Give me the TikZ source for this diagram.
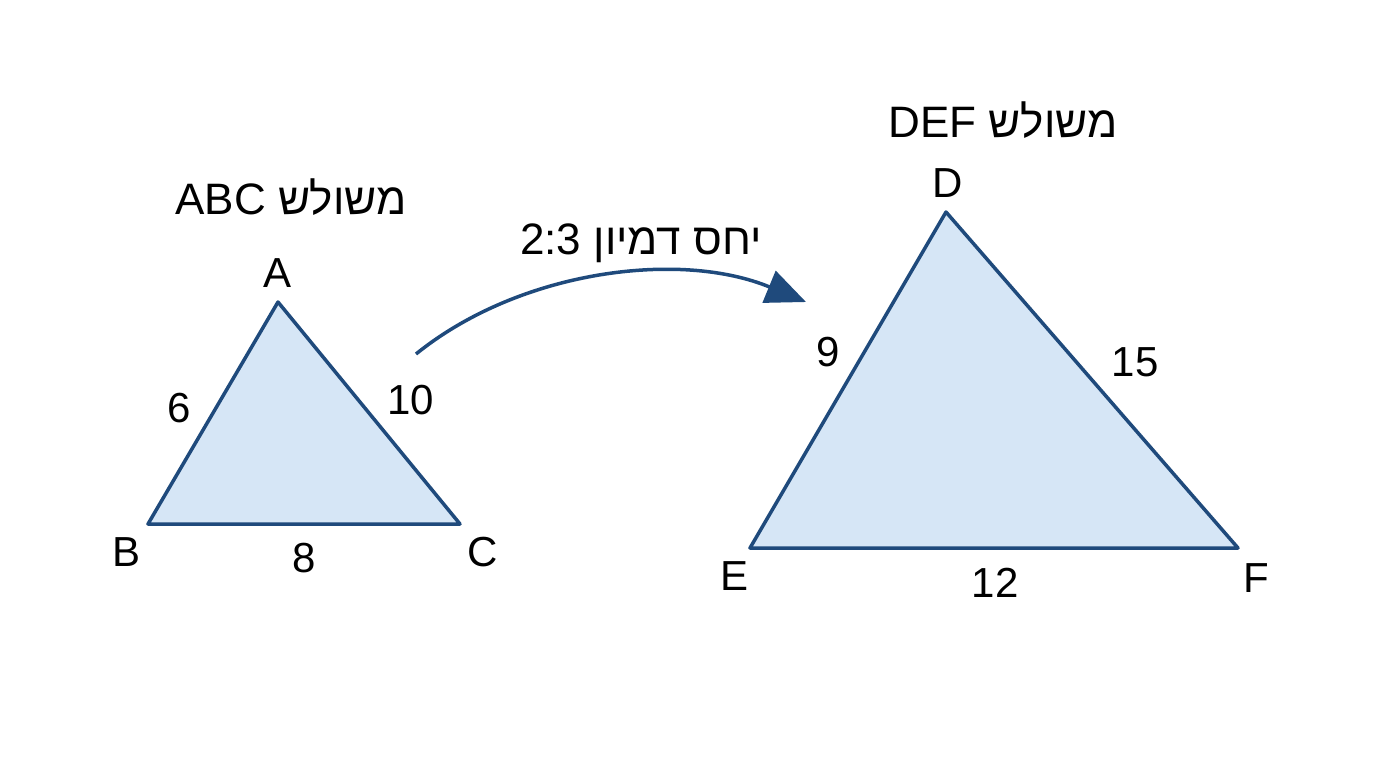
\documentclass[tikz,border=0pt]{standalone}
\usepackage{fontspec}
\setmainfont{Liberation Sans}
\newfontfamily\hebfont[Script=Hebrew]{Liberation Sans}
\TeXXeTstate=1
\usepackage{xcolor}
\usetikzlibrary{arrows.meta}
\definecolor{triline}{HTML}{1F4A7C}
\definecolor{trifill}{HTML}{D6E6F6}

\begin{document}
\begin{tikzpicture}[x=1pt,y=-1pt,
    tri/.style={draw=triline,fill=trifill,line width=3.5pt,line join=round},
    lbl/.style={font=\fontsize{42}{50}\selectfont},
    head/.style={font=\hebfont\fontsize{44}{50}\selectfont}]
                \useasboundingbox[fill=white] (0,0) rectangle (1376,768);
                % triangle ABC
                \coordinate (A) at (278,302);
                \coordinate (B) at (148,524);
                \coordinate (C) at (460,524);
                \draw[tri] (A) -- (B) -- (C) -- cycle;
                \node[head] (titleABC) at (291,197) {\beginR משולש \beginL ABC\endL\endR};
                \node[lbl] (labA) at (278,273) {A};
                \node[lbl] (labB) at (127,552) {B};
                \node[lbl] (labC) at (483,552) {C};
                \node[lbl] (sAB) at (179,408) {6};
                \node[lbl] (sAC) at (411,400) {10};
                \node[lbl] (sBC) at (304,558) {8};
                % triangle DEF
                \coordinate (D) at (946,212);
                \coordinate (E) at (750,548);
                \coordinate (F) at (1238,548);
                \draw[tri] (D) -- (E) -- (F) -- cycle;
                \node[head] (titleDEF) at (1003,120) {\beginR משולש \beginL DEF\endL\endR};
                \node[lbl] (labD) at (948,183) {D};
                \node[lbl] (labE) at (734,576) {E};
                \node[lbl] (labF) at (1256,578) {F};
                \node[lbl] (sDE) at (828,352) {9};
                \node[lbl] (sDF) at (1135,362) {15};
                \node[lbl] (sEF) at (995,583) {12};
                % similarity arrow
                \coordinate (from) at (416,354);
                \coordinate (to) at (806,302);
                \draw[draw=triline,line width=3.5pt,-{Triangle[length=40pt,width=34pt]}]
                    (from) .. controls (520,270) and (680,250) .. (to);
                \node[head] (ratio) at (641,243) {\beginR יחס דמיון \beginL 2:3\endL\endR};
\end{tikzpicture}
\end{document}
